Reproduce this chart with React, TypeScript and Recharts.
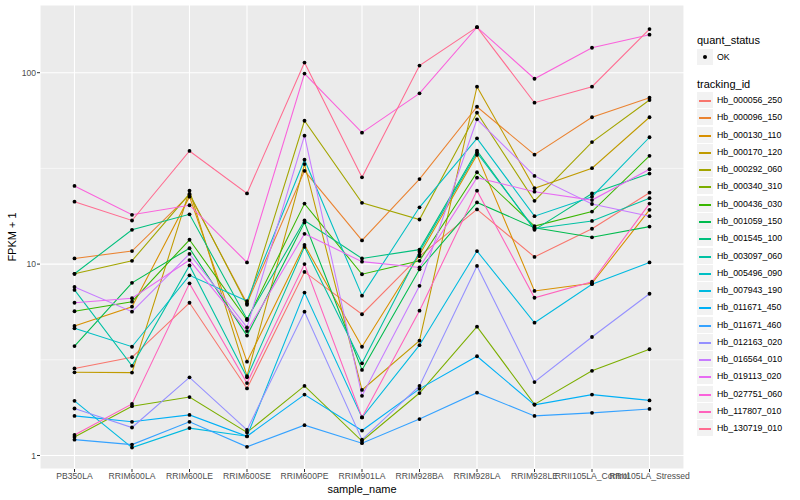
import { LineChart, Line, XAxis, YAxis, CartesianGrid, ReferenceLine } from "recharts";

// samples on the x axis
const CATEGORIES = [
  "PB350LA",
  "RRIM600LA",
  "RRIM600LE",
  "RRIM600SE",
  "RRIM600PE",
  "RRIM901LA",
  "RRIM928BA",
  "RRIM928LA",
  "RRIM928LE",
  "RRII105LA_Control",
  "RRII105LA_Stressed",
];

// FPKM + 1, one value per sample
const HB_000056_250 = [2.85, 3.26, 6.28, 2.24, 9.1, 5.47, 11.0, 19.3, 10.9, 15.3, 23.6];
const HB_000096_150 = [10.7, 11.7, 23.0, 6.24, 30.7, 13.3, 27.8, 66.4, 37.3, 58.5, 74];
const HB_000130_110 = [4.75, 5.99, 22.5, 3.09, 12.6, 3.7, 11.2, 37.2, 7.24, 7.94, 19.2];
const HB_000170_120 = [2.72, 2.71, 24.2, 2.6, 33.3, 2.2, 3.98, 84.5, 24.9, 31.7, 58.5];
const HB_000292_060 = [8.9, 10.4, 23.3, 6.13, 56.1, 20.9, 17.1, 61.8, 21.4, 43.4, 72];
const HB_000340_310 = [1.25, 1.81, 2.02, 1.32, 2.31, 1.19, 2.12, 4.71, 1.85, 2.77, 3.59];
const HB_000436_030 = [5.67, 6.36, 13.4, 5.1, 20.7, 8.85, 10.4, 30.2, 15.8, 18.8, 36.8];
const HB_001059_150 = [3.73, 7.98, 12.1, 4.23, 16.5, 2.8, 9.4, 21.0, 15.5, 13.8, 15.7];
const HB_001545_100 = [8.9, 15.1, 18.2, 5.17, 16.9, 10.7, 11.9, 39.1, 15.1, 23.4, 29.7];
const HB_003097_060 = [7.33, 2.94, 9.84, 2.56, 12.3, 3.03, 11.6, 38.2, 15.3, 16.8, 22.1];
const HB_005496_090 = [4.62, 3.7, 8.74, 6.41, 35.1, 6.84, 19.8, 45.4, 17.8, 22.5, 46];
const HB_007943_190 = [1.93, 1.1, 1.39, 1.26, 7.1, 1.58, 3.77, 11.7, 4.94, 7.85, 10.2];
const HB_011671_450 = [1.61, 1.5, 1.63, 1.26, 2.08, 1.35, 2.23, 3.3, 1.84, 2.08, 1.94];
const HB_011671_460 = [1.21, 1.14, 1.5, 1.11, 1.44, 1.16, 1.55, 2.13, 1.61, 1.67, 1.75];
const HB_012163_020 = [1.76, 1.4, 2.56, 1.36, 5.64, 1.21, 2.31, 9.78, 2.42, 4.16, 7.0];
const HB_016564_010 = [7.59, 5.64, 11.3, 4.67, 46.9, 2.05, 7.7, 57.1, 28.9, 20.6, 17.8];
const HB_019113_020 = [6.28, 6.63, 10.5, 4.47, 14.4, 10.3, 9.6, 28.3, 23.9, 21.6, 31.3];
const HB_027751_060 = [25.6, 18.1, 20.3, 10.2, 99, 48.6, 78, 173, 93, 135, 158];
const HB_117807_010 = [1.28, 1.86, 7.93, 2.39, 10.0, 1.58, 5.71, 24.2, 6.67, 8.09, 20.7];
const HB_130719_010 = [21.2, 16.9, 39, 23.4, 113, 28.4, 109, 173, 69.7, 84.5, 169];

const TRACKING_IDS = [
  "Hb_000056_250", "Hb_000096_150", "Hb_000130_110", "Hb_000170_120", "Hb_000292_060",
  "Hb_000340_310", "Hb_000436_030", "Hb_001059_150", "Hb_001545_100", "Hb_003097_060",
  "Hb_005496_090", "Hb_007943_190", "Hb_011671_450", "Hb_011671_460", "Hb_012163_020",
  "Hb_016564_010", "Hb_019113_020", "Hb_027751_060", "Hb_117807_010", "Hb_130719_010",
];

const SERIES_VALUES = [
  HB_000056_250, HB_000096_150, HB_000130_110, HB_000170_120, HB_000292_060,
  HB_000340_310, HB_000436_030, HB_001059_150, HB_001545_100, HB_003097_060,
  HB_005496_090, HB_007943_190, HB_011671_450, HB_011671_460, HB_012163_020,
  HB_016564_010, HB_019113_020, HB_027751_060, HB_117807_010, HB_130719_010,
];

const Y_TICKS = [1, 10, 100];
const Y_MINOR = [3.1623, 31.623];

// ggplot hue palette, 20 levels
const PALETTE = [
  "#F8766D", "#EA8331", "#D89000", "#C09B00", "#A3A500", "#7CAE00", "#39B600",
  "#00BB4E", "#00BF7D", "#00C1A3", "#00BFC4", "#00BAE0", "#00B0F6", "#35A2FF",
  "#9590FF", "#C77CFF", "#E76BF3", "#FA62DB", "#FF62BC", "#FF6C91",
];

const rows = CATEGORIES.map((sample, i) => {
  const row: Record<string, string | number> = { sample_name: sample };
  TRACKING_IDS.forEach((id, s) => {
    row[id] = SERIES_VALUES[s][i];
  });
  return row;
});

const FONT = '"Liberation Sans", Arial, sans-serif';
const tickStyle = { fontSize: 8.6, fill: "#4D4D4D", fontFamily: FONT };

export default function App() {
  return (
    <div style={{ position: "absolute", left: 0, top: 0, width: 800, height: 500, background: "#fff", fontFamily: FONT }}>
      <LineChart width={800} height={500} data={rows} margin={{ top: 5, right: 116, bottom: 0, left: 0 }}>
        <CartesianGrid stroke="#FFFFFF" strokeWidth={1.1} fill="#EBEBEB" fillOpacity={1} />
        {Y_MINOR.map((v) => (
          <ReferenceLine key={v} y={v} stroke="#FFFFFF" strokeWidth={0.55} />
        ))}
        <XAxis
          dataKey="sample_name"
          interval={0}
          height={31}
          padding={{ left: 34.5, right: 34.5 }}
          axisLine={false}
          tickSize={3}
          tickLine={{ stroke: "#333333" }}
          tick={tickStyle}
          tickMargin={1}
        />
        <YAxis
          type="number"
          scale="log"
          domain={[0.85, 225.8]}
          allowDataOverflow
          ticks={Y_TICKS}
          width={40}
          axisLine={false}
          tickSize={3}
          tickLine={{ stroke: "#333333" }}
          tick={tickStyle}
          tickMargin={1}
        />
        {TRACKING_IDS.map((id, s) => (
          <Line
            key={id}
            dataKey={id}
            stroke={PALETTE[s]}
            strokeWidth={1.07}
            dot={false}
            activeDot={false}
            isAnimationActive={false}
          />
        ))}
        {TRACKING_IDS.map((id) => (
          <Line
            key={id + "_pt"}
            dataKey={id}
            stroke="none"
            dot={{ r: 1.9, fill: "#000", stroke: "none" }}
            activeDot={false}
            isAnimationActive={false}
          />
        ))}
      </LineChart>

      <div
        style={{
          position: "absolute",
          left: 12,
          top: 237,
          transform: "translate(-50%, -50%) rotate(-90deg)",
          fontSize: 11,
          whiteSpace: "nowrap",
        }}
      >
        FPKM + 1
      </div>
      <div style={{ position: "absolute", left: 362, top: 489, transform: "translate(-50%, -50%)", fontSize: 11 }}>
        sample_name
      </div>

      {/* legends */}
      <div style={{ position: "absolute", left: 697, top: 34, fontSize: 11, lineHeight: "13px" }}>quant_status</div>
      <div style={{ position: "absolute", left: 697, top: 49, width: 16, height: 16, background: "#F2F2F2" }}>
        <div style={{ position: "absolute", left: 6, top: 6, width: 4, height: 4, borderRadius: 2, background: "#000" }} />
      </div>
      <div style={{ position: "absolute", left: 717, top: 51, fontSize: 8.8, lineHeight: "12px" }}>OK</div>
      <div style={{ position: "absolute", left: 697, top: 78, fontSize: 11, lineHeight: "13px" }}>tracking_id</div>
      {TRACKING_IDS.map((id, s) => {
        const top = Math.round(92 + s * 17.28);
        return (
          <div key={id} style={{ position: "absolute", left: 697, top, height: 16, width: 100 }}>
            <div style={{ position: "absolute", left: 0, top: 0, width: 16, height: 16, background: "#F2F2F2" }} />
            <div style={{ position: "absolute", left: 2, top: 8, width: 12, height: 1.5, background: PALETTE[s] }} />
            <div style={{ position: "absolute", left: 20, top: 2, fontSize: 8.8, lineHeight: "12px", whiteSpace: "nowrap" }}>
              {id}
            </div>
          </div>
        );
      })}
    </div>
  );
}
